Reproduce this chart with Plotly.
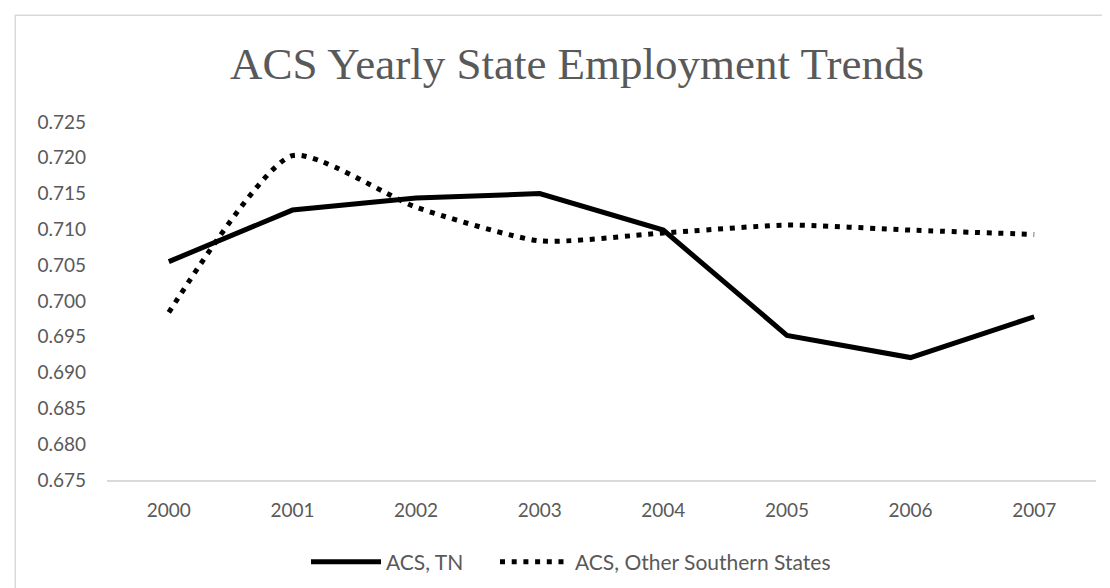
import plotly.graph_objects as go

years = ["2000", "2001", "2002", "2003", "2004", "2005", "2006", "2007"]
tn_values = [0.7055, 0.7127, 0.7144, 0.7150, 0.7099, 0.6952, 0.6921, 0.6978]
other_values = [0.6984, 0.7203, 0.7131, 0.7084, 0.7095, 0.7106, 0.7099, 0.7093]
y_ticks = [0.675, 0.680, 0.685, 0.690, 0.695, 0.700, 0.705, 0.710, 0.715, 0.720, 0.725]
y_tick_labels = [f"{v:.3f}" for v in y_ticks]

W, H = 1110, 588
L, R, T, B = 99, 22, 114, 116
PW, PH = W - L - R, H - T - B

def px_x(px):
    return (px - L) / PW

def px_y(py):
    return (H - B - py) / PH

grey = "#595959"
tick_font = dict(family="Lato, Calibri, sans-serif", size=19, color=grey)
legend_font = dict(family="Lato, Calibri, sans-serif", size=21, color=grey)

fig = go.Figure()
fig.add_trace(go.Scatter(
    x=years, y=tn_values, name="ACS, TN", mode="lines",
    line=dict(color="black", width=5), legend="legend",
))
fig.add_trace(go.Scatter(
    x=years, y=other_values, name="ACS, Other Southern States", mode="lines",
    line=dict(color="black", width=5, dash="5px,6.7px", shape="spline", smoothing=0.6),
    legend="legend2",
))

legend_common = dict(
    orientation="h", xref="container", yref="container",
    y=1 - 554 / H, xanchor="left", yanchor="middle",
    font=legend_font, itemwidth=70, bgcolor="rgba(0,0,0,0)",
)

fig.update_layout(
    width=W, height=H,
    margin=dict(l=L, r=R, t=T, b=B),
    paper_bgcolor="white", plot_bgcolor="white",
    title=dict(
        text="ACS Yearly State Employment Trends",
        font=dict(family="Liberation Serif, Times New Roman, serif", size=45, color=grey),
        xref="container", yref="container",
        x=569 / W, y=1 - 55 / H, xanchor="center", yanchor="middle",
    ),
    showlegend=True,
    legend=dict(x=298 / W, **legend_common),
    legend2=dict(x=487 / W, **legend_common),
    xaxis=dict(
        type="category", range=[-0.5, 7.5],
        showgrid=False, zeroline=False,
        showline=True, linecolor="#d9d9d9", linewidth=2,
        ticks="", tickfont=tick_font, ticklabelstandoff=12,
        fixedrange=True,
    ),
    yaxis=dict(
        range=[0.675, 0.725], tickvals=y_ticks, ticktext=y_tick_labels,
        showgrid=False, zeroline=False, showline=False,
        ticks="", tickfont=tick_font, ticklabelstandoff=20,
        fixedrange=True,
    ),
    shapes=[
        dict(type="rect", xref="paper", yref="paper",
             x0=px_x(7.3), x1=px_x(1125), y0=px_y(600), y1=px_y(7.3),
             line=dict(color="#d9d9d9", width=1.5), fillcolor="rgba(0,0,0,0)",
             layer="below"),
    ],
)

fig.write_html("out.html")
